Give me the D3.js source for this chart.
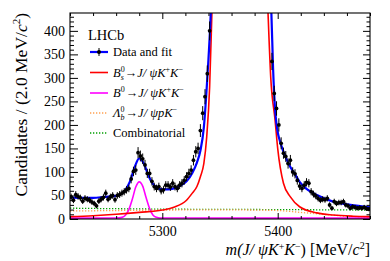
<!DOCTYPE html>
<html><head><meta charset="utf-8">
<script src="https://cdn.jsdelivr.net/npm/d3@7"></script>
<style>
body{margin:0;background:#fff}
svg{display:block}
text{font-family:"Liberation Serif","Times New Roman",serif;fill:#000}
</style>
</head><body>
<svg id="chart" width="390" height="261"></svg>
<script>
// ---- data ----
const binCenters = d3.range(5221, 5480, 2); // 2 MeV bins
const counts = [
 47,40,52,48,45,38,44,42,40,36,
 33,28,38,42,46,55,42,47,50,41,
 50,52,55,58,62,65,85,101,104,141,
 134,128,115,97,97,80,69,65,69,60,
 62,72,72,68,76,69,65,72,76,82,
 90,97,104,125,143,150,188,225,260,309,
 400,520,700,950,1300,1750,2300,2900,3600,4300,
 4900,5300,5500,5450,5200,4700,4000,3300,2600,2000,
 1500,1100,850,680,560,500,460,335,267,235,
 200,161,140,133,118,125,100,96,82,70,
 65,72,78,76,58,53,49,44,40,42,
 41,44,30,23,37,33,35,35,37,30,
 28,23,26,25,23,24,23,25,22,21];

const totalMass = [5220,5230,5240,5250,5260,5264,5268,5272,5276,5280,5284,5288,5292,5296,5300,5305,5310,5315,5321,5326,5330,5333,5336,5338,5340,5342,5344,5367,5390,5392.5,5394.5,5396,5398,5400,5402,5405,5410,5415,5419,5425,5434,5448,5463,5480];
const totalFit  = [46,45,45,47,49,53,62,80,110,129,118,92,74,66,63,63,65,70,80,98,120,145,195,260,340,440,620,6000,700,520,440,320,225,185,165,143,115,95,79,64,51,37,30,25];

const bsMass = [5220,5240,5260,5280,5300,5310,5321,5326,5330,5333,5336,5338.5,5341,5343,5346,5367,5388,5391.6,5394,5397.7,5400,5405,5411,5419,5434,5448,5465,5480];
const bsFit  = [5,7,10,14,19,25,40,55,69,90,118,175,280,440,700,6000,700,440,300,211,150,76,47,26,13,8.5,6,5];

const b0Mass = [5220,5260,5265,5268,5271,5274,5277,5280,5283,5286,5289,5292,5295,5298,5310,5480];
const b0Fit  = [1.8,2,3.5,8,20,42,68,79,70,45,22,8,3.5,2.2,2,1.8];

const lbMass = [5220,5260,5300,5350,5380,5400,5420,5440,5460,5480];
const lbFit  = [17,18,19,19.5,19,18,14,10,6,4];

const combMass = [5220,5300,5400,5480];
const combFit  = [23,21,20,19];

const yTicks = [0,50,100,150,200,250,300,350,400];
const xTicks = [5300,5400];

// ---- layout ----
const svg = d3.select("#chart");
const L = 70, R = 370, T = 13, B = 219;
const x = d3.scaleLinear().domain([5220,5480]).range([L,R]);
const y = d3.scaleLinear().domain([0,438]).range([B,T]);

svg.append("clipPath").attr("id","clip").append("rect")
  .attr("x",L).attr("y",T).attr("width",R-L).attr("height",B-T);
const plot = svg.append("g").attr("clip-path","url(#clip)");

const line = d3.line().x(d=>x(d[0])).y(d=>y(d[1])).curve(d3.curveMonotoneX);
const zip = (a,b)=>a.map((v,i)=>[v,b[i]]);

plot.append("path").datum(zip(combMass,combFit)).attr("d",line)
  .attr("fill","none").attr("stroke","#00a000").attr("stroke-width",1.3).attr("stroke-dasharray","1.3,1.7");
plot.append("path").datum(zip(lbMass,lbFit)).attr("d",line)
  .attr("fill","none").attr("stroke","#ffa050").attr("stroke-width",1.3).attr("stroke-dasharray","1.3,1.7");
plot.append("path").datum(zip(b0Mass,b0Fit)).attr("d",line)
  .attr("fill","none").attr("stroke","#ff00ff").attr("stroke-width",1.6);
plot.append("path").datum(zip(bsMass,bsFit)).attr("d",line)
  .attr("fill","none").attr("stroke","#ff0000").attr("stroke-width",1.6);
plot.append("path").datum(zip(totalMass,totalFit)).attr("d",line)
  .attr("fill","none").attr("stroke","#0000ff").attr("stroke-width",2.2);

// data points
const pts = binCenters.map((m,i)=>({m, v:counts[i], e:Math.sqrt(counts[i])})).filter(d=>d.v<=438);
const pg = plot.append("g");
pg.selectAll("line.ey").data(pts).join("line")
  .attr("x1",d=>x(d.m)).attr("x2",d=>x(d.m))
  .attr("y1",d=>y(d.v-d.e)).attr("y2",d=>y(d.v+d.e))
  .attr("stroke","#000").attr("stroke-width",1);
pg.selectAll("line.ex").data(pts).join("line")
  .attr("x1",d=>x(d.m-1)).attr("x2",d=>x(d.m+1))
  .attr("y1",d=>y(d.v)).attr("y2",d=>y(d.v))
  .attr("stroke","#000").attr("stroke-width",1);
pg.selectAll("circle").data(pts).join("circle")
  .attr("cx",d=>x(d.m)).attr("cy",d=>y(d.v)).attr("r",1.9).attr("fill","#000");

// ---- axes ----
const yMinor = d3.range(0,438,10).filter(v=>v%50!==0);
const xMinor = d3.range(5220,5481,20).filter(v=>v%100!==0);
function styleAxis(g){ g.select(".domain").remove(); g.selectAll("line").attr("stroke","#000"); g.selectAll("text").style("font-family","'Liberation Serif',serif").style("font-size","14px"); }

svg.append("g").attr("transform",`translate(${L},0)`)
  .call(d3.axisLeft(y).tickValues(yTicks).tickSize(-8).tickPadding(5)).call(styleAxis);
svg.append("g").attr("transform",`translate(${L},0)`)
  .call(d3.axisLeft(y).tickValues(yMinor).tickSize(-4).tickFormat("")).call(styleAxis);
svg.append("g").attr("transform",`translate(${R},0)`)
  .call(d3.axisRight(y).tickValues(yTicks).tickSize(-7).tickFormat("")).call(styleAxis);
svg.append("g").attr("transform",`translate(${R},0)`)
  .call(d3.axisRight(y).tickValues(yMinor).tickSize(-3.5).tickFormat("")).call(styleAxis);
svg.append("g").attr("transform",`translate(0,${B})`)
  .call(d3.axisBottom(x).tickValues(xTicks).tickSize(-6).tickPadding(7).tickFormat(d3.format("d"))).call(styleAxis);
svg.append("g").attr("transform",`translate(0,${B})`)
  .call(d3.axisBottom(x).tickValues(xMinor).tickSize(-3).tickFormat("")).call(styleAxis);
svg.append("g").attr("transform",`translate(0,${T})`)
  .call(d3.axisTop(x).tickValues(xTicks).tickSize(-6).tickFormat("")).call(styleAxis);
svg.append("g").attr("transform",`translate(0,${T})`)
  .call(d3.axisTop(x).tickValues(xMinor).tickSize(-3).tickFormat("")).call(styleAxis);

svg.append("rect").attr("x",L).attr("y",T).attr("width",R-L).attr("height",B-T)
  .attr("fill","none").attr("stroke","#000").attr("stroke-width",1.1);

// ---- rich text helper ----
function rich(g, xx, yy, segs, size, anchor){
  const t = g.append("text").attr("x",xx).attr("y",yy).style("font-size",size+"px");
  if(anchor) t.attr("text-anchor",anchor);
  let cur = 0;
  segs.forEach(s=>{
    const shift = s.s||0;
    const ts = t.append("tspan").text(s.t).attr("dy",shift-cur);
    cur = shift;
    if(s.i) ts.style("font-style","italic");
    if(s.f) ts.style("font-size",s.f+"px");
    if(s.dx) ts.attr("dx",s.dx);
  });
  return t;
}

// axis titles
rich(svg, R, 255, [
  {t:"m",i:1},{t:"(",i:1},{t:"J",i:1},{t:"/ ",i:1},{t:"ψ",i:1},{t:"K",i:1},{t:"+",f:10,s:-5},{t:"K",i:1,s:0},{t:"−",f:10,s:-5},{t:")",s:0},
  {t:" [MeV/"},{t:"c",i:1},{t:"2",f:10,s:-6},{t:"]",s:0}
], 16, "end");

const yl = svg.append("g").attr("transform","translate(27,13) rotate(-90)");
rich(yl, 0, 0, [
  {t:"Candidates / (2.0 MeV/"},{t:"c",i:1},{t:"2",f:11,s:-7},{t:")",s:0}
], 17.5, "end");

// LHCb label
svg.append("text").attr("x",88).attr("y",40).style("font-size","14.5px").text("LHCb");

// ---- legend ----
const lg = svg.append("g");
const lx1 = 90, lx2 = 108, tx = 113, fs = 12.5;
const rows = [52, 72.5, 93, 113, 133];
lg.append("line").attr("x1",lx1).attr("x2",lx2).attr("y1",rows[0]).attr("y2",rows[0]).attr("stroke","#0000ff").attr("stroke-width",2.2);
lg.append("line").attr("x1",99).attr("x2",99).attr("y1",rows[0]-4).attr("y2",rows[0]+4).attr("stroke","#000");
lg.append("circle").attr("cx",99).attr("cy",rows[0]).attr("r",2).attr("fill","#000");
rich(lg, tx, rows[0]+4, [{t:"Data and fit"}], fs);
lg.append("line").attr("x1",lx1).attr("x2",lx2).attr("y1",rows[1]).attr("y2",rows[1]).attr("stroke","#ff0000").attr("stroke-width",1.6);
rich(lg, tx, rows[1]+4, [{t:"B",i:1},{t:"0",f:8,s:-5},{t:"s",f:8,s:3,i:1,dx:-4},{t:"→",s:0,dx:1},{t:"J",i:1},{t:"/ ",i:1},{t:"ψ",i:1},{t:"K",i:1},{t:"+",f:8,s:-5},{t:"K",i:1,s:0},{t:"−",f:8,s:-5}], fs);
lg.append("line").attr("x1",lx1).attr("x2",lx2).attr("y1",rows[2]).attr("y2",rows[2]).attr("stroke","#ff00ff").attr("stroke-width",1.6);
rich(lg, tx, rows[2]+4, [{t:"B",i:1},{t:"0",f:8,s:-5},{t:"→",s:0,dx:1},{t:"J",i:1},{t:"/ ",i:1},{t:"ψ",i:1},{t:"K",i:1},{t:"+",f:8,s:-5},{t:"K",i:1,s:0},{t:"−",f:8,s:-5}], fs);
lg.append("line").attr("x1",lx1).attr("x2",lx2).attr("y1",rows[3]).attr("y2",rows[3]).attr("stroke","#ffa050").attr("stroke-width",1.3).attr("stroke-dasharray","1.3,1.7");
rich(lg, tx, rows[3]+4, [{t:"Λ",i:1},{t:"0",f:8,s:-5},{t:"b",f:8,s:3,i:1,dx:-4},{t:"→",s:0,dx:1},{t:"J",i:1},{t:"/ ",i:1},{t:"ψ",i:1},{t:"p",i:1},{t:"K",i:1},{t:"−",f:8,s:-5}], fs);
lg.append("line").attr("x1",lx1).attr("x2",lx2).attr("y1",rows[4]).attr("y2",rows[4]).attr("stroke","#00a000").attr("stroke-width",1.3).attr("stroke-dasharray","1.3,1.7");
rich(lg, tx, rows[4]+4, [{t:"Combinatorial"}], fs);
</script>
</body></html>
